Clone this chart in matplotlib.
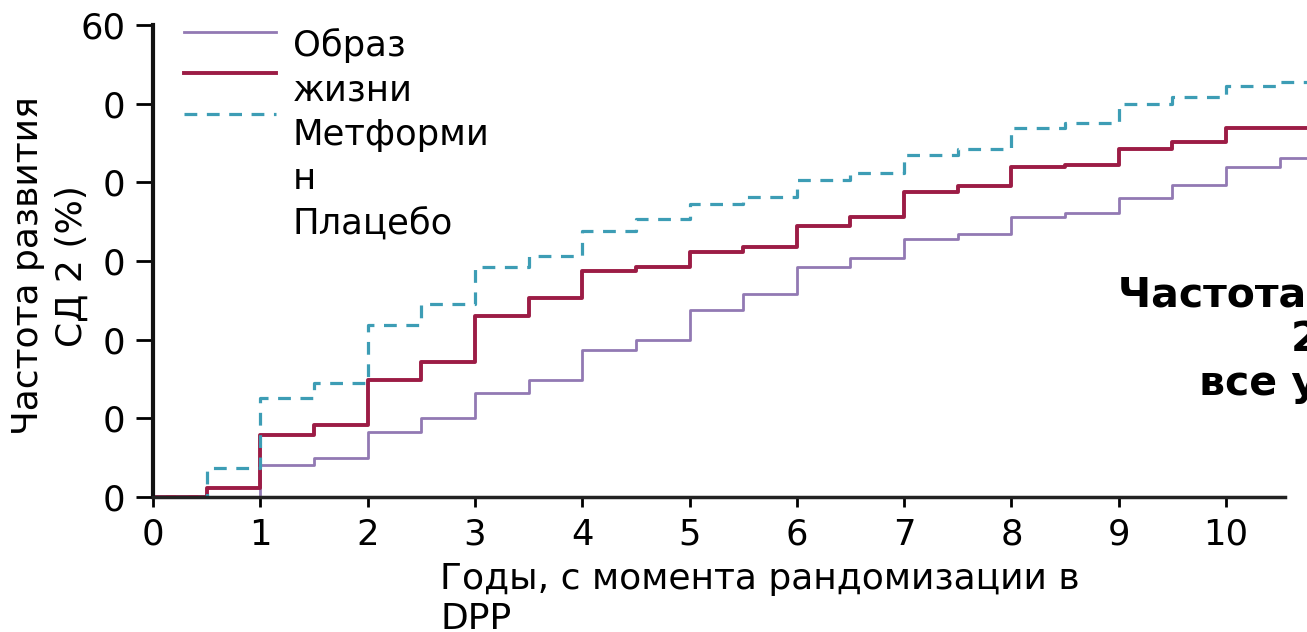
import matplotlib
matplotlib.use("Agg")
from matplotlib import pyplot as plt
from matplotlib.lines import Line2D

# годы (ступени каждые полгода)
years = [0, 0.5, 1, 1.5, 2, 2.5, 3, 3.5, 4, 4.5, 5, 5.5, 6, 6.5, 7, 7.5, 8, 8.5, 9, 9.5, 10, 10.5, 10.8]

# частота развития СД 2 (%), значение действует с начала интервала
lifestyle = [0, 0, 4.1, 4.9, 8.2, 10.0, 13.2, 14.9, 18.7, 19.9, 23.8, 25.8, 29.2, 30.4,
             32.8, 33.4, 35.6, 36.1, 38.0, 39.6, 41.9, 43.1, 43.1]
metformin = [0, 1.1, 7.9, 9.1, 14.9, 17.2, 23.0, 25.3, 28.7, 29.2, 31.1, 31.8, 34.4, 35.6,
             38.8, 39.5, 41.9, 42.2, 44.2, 45.1, 46.9, 46.9, 46.9]
placebo = [0, 3.7, 12.6, 14.5, 21.9, 24.5, 29.2, 30.6, 33.8, 35.4, 37.2, 38.1, 40.3, 41.2,
           43.5, 44.3, 46.9, 47.6, 49.9, 50.8, 52.3, 52.7, 52.7]

y_ticks = [0, 10, 20, 30, 40, 50, 60]
y_tick_labels = ["0", "0", "0", "0", "0", "0", "60"]
x_ticks = [0, 1, 2, 3, 4, 5, 6, 7, 8, 9, 10]
legend_names = "Образ\nжизни\nМетформи\nн\nПлацебо"

c_life = "#9279b3"
c_met = "#9c1c45"
c_plac = "#3d9db5"

plt.rcParams["font.family"] = ["DejaVu Sans"]
fs = 25.5

fig = plt.figure(figsize=(13.07, 6.32), dpi=100)
ax = fig.add_axes([153 / 1307, 1 - 497 / 632, 1 - 153 / 1307, (497 - 25) / 632])

ax.step(years, lifestyle, where="post", color=c_life, lw=2.0)
ax.step(years, metformin, where="post", color=c_met, lw=2.8)
ax.step(years, placebo, where="post", color=c_plac, lw=2.3, ls=(0, (4, 3)))

ax.set_xlim(0, (1307 - 153) / 107.3)
ax.set_ylim(0, 60)
ax.spines["top"].set_visible(False)
ax.spines["right"].set_visible(False)
ax.spines["left"].set_linewidth(3)
ax.spines["bottom"].set_linewidth(2.5)
ax.spines["left"].set_color("#111111")
ax.spines["bottom"].set_color("#222222")
ax.spines["bottom"].set_bounds(0, 10.55)

ax.set_yticks(y_ticks)
ax.set_yticklabels(y_tick_labels)
ax.set_xticks(x_ticks)
ax.tick_params(axis="y", direction="out", length=12, width=2, pad=8, labelsize=fs)
ax.tick_params(axis="x", direction="out", length=7, width=2, pad=8, labelsize=fs)

handles = [Line2D([], [], color=c_life, lw=2.0),
           Line2D([], [], color=c_met, lw=2.8),
           Line2D([], [], color=c_plac, lw=2.3, ls=(0, (4, 3)))]
leg = ax.legend(handles, ["", "", ""], loc="upper left", bbox_to_anchor=(0.004, 1.068),
                frameon=False, handlelength=3.08, fontsize=21.5, labelspacing=0.4,
                handletextpad=0)

fig.text(293 / 1307, 1 - 28 / 632, legend_names, fontsize=fs, va="top", ha="left",
         linespacing=1.38)

fig.text(50 / 1307, 1 - 266 / 632, "Частота развития\nСД 2 (%)", rotation=90,
         fontsize=26, ha="center", va="center", multialignment="center", linespacing=1.36)

fig.text(440 / 1307, 1 - 562 / 632, "Годы, с момента рандомизации в\nDPP", fontsize=26,
         ha="left", va="top", linespacing=1.23)

fig.text(1118 / 1307, 1 - 340 / 632, "Частота развития СД\n2 типа\nвсе участники",
         fontsize=29.5, fontweight="bold", ha="left", va="center", multialignment="center",
         linespacing=1.14)

fig.savefig("out.png", dpi=100)
